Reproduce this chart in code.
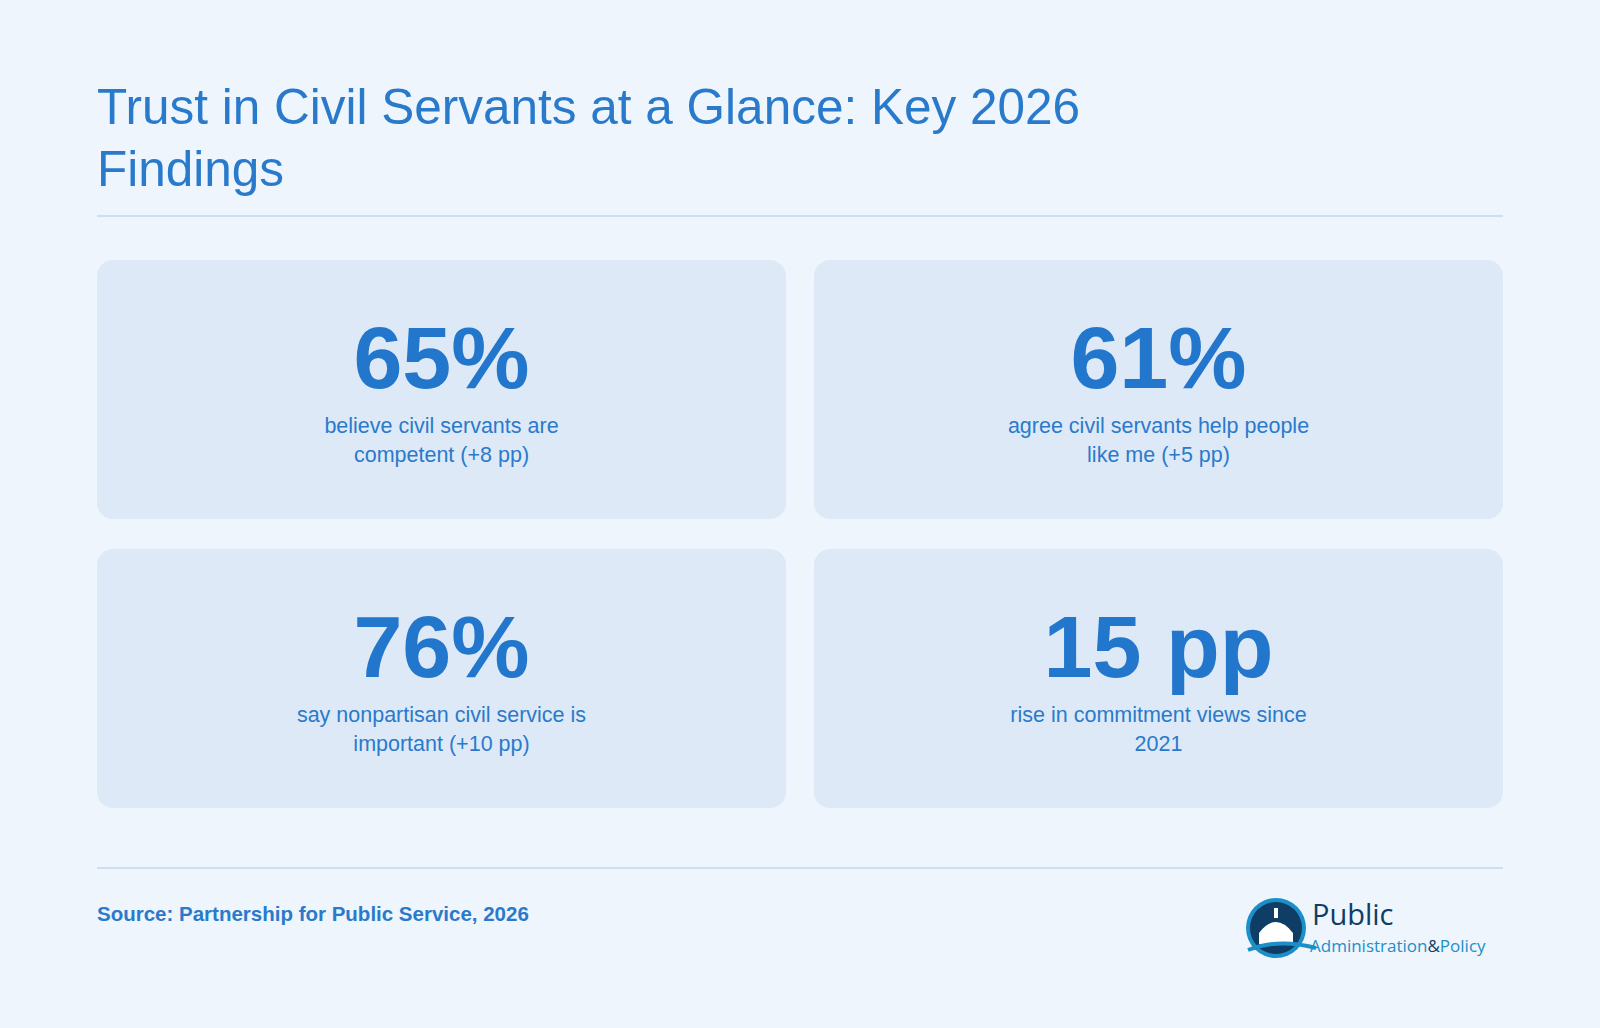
<!DOCTYPE html>
<html><head><meta charset="utf-8">
<script src="https://cdn.jsdelivr.net/npm/chart.js@4/dist/chart.umd.min.js"></script>
<style>
html,body{margin:0;padding:0;background:#eef5fc;width:1600px;height:1028px;overflow:hidden;font-family:"Liberation Sans",Arial,sans-serif;color:#2277cc}
#title{position:absolute;left:97px;top:76px;width:1150px;font-size:49.5px;line-height:62px;font-weight:normal;color:#2a7acc;margin:0}
.rule{position:absolute;left:97px;width:1406px;height:0;border-top:2px solid #cddff0}
.card{position:absolute;width:689px;height:259px;background:#dde9f6;border-radius:16px;text-align:center}
.big{font-size:88px;font-weight:bold;color:#2277cc;margin-top:52px;line-height:92px}
.desc{font-size:21.5px;line-height:29px;color:#2a7acc;width:320px;margin:8px auto 0}
#src{position:absolute;left:97px;top:902px;font-size:20.5px;font-weight:bold;color:#2a7acc}
#logo{position:absolute;left:1244px;top:890px}
</style></head><body>
<h1 id="title">Trust in Civil Servants at a Glance: Key 2026 Findings</h1>
<div class="rule" style="top:215px"></div>
<div id="cards"></div>
<div class="rule" style="top:867px"></div>
<div id="src">Source: Partnership for Public Service, 2026</div>
<div id="logo">
<svg width="280" height="80" viewBox="0 -6 280 80">
<circle cx="32" cy="32" r="30" fill="#1c8fc8"/><circle cx="32" cy="32" r="26" fill="#0f3d66"/>
<path d="M15 48 L15 37 Q32 15 49 37 L49 48 Z" fill="#fff"/>
<rect x="30" y="12" width="4" height="10" fill="#fff"/>
<path d="M4 54 Q34 42 72 52" stroke="#1c8fc8" stroke-width="4" fill="none"/>
<text x="68" y="29" font-family="Open Sans" font-size="29" fill="#0f3d66">Public</text>
<text x="66" y="56" font-family="Open Sans" font-size="17" fill="#1c8fc8">Administration<tspan fill="#0f3d66">&amp;</tspan>Policy</text>
</svg></div>
<script>
const values=["65%","61%","76%","15 pp"];
const descriptions=["believe civil servants are competent (+8 pp)","agree civil servants help people like me (+5 pp)","say nonpartisan civil service is important (+10 pp)","rise in commitment views since 2021"];
const pos=[[97,260],[814,260],[97,549],[814,549]];
const c=document.getElementById('cards');
values.forEach((v,i)=>{const d=document.createElement('div');d.className='card';d.style.left=pos[i][0]+'px';d.style.top=pos[i][1]+'px';
d.innerHTML='<div class="big">'+v+'</div><div class="desc">'+descriptions[i]+'</div>';c.appendChild(d);});
</script>
</body></html>
